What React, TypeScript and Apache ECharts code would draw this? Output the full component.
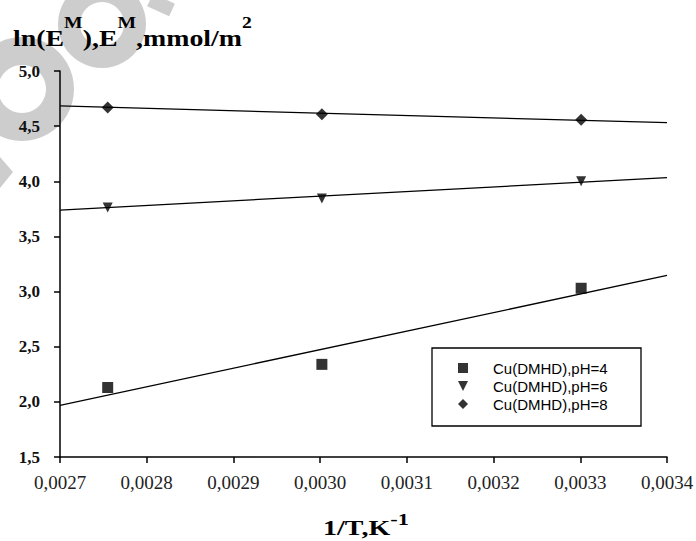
import React, { useEffect, useRef } from "react";
import * as echarts from "echarts";

// ---- data ----
const xPoints = [0.002755, 0.003002, 0.003301];
const seriesNames = ["Cu(DMHD),pH=4", "Cu(DMHD),pH=6", "Cu(DMHD),pH=8"];
const pH4 = [2.13, 2.34, 3.03];
const pH6 = [3.763, 3.845, 4.0];
const pH8 = [4.67, 4.607, 4.558];
// fitted trend lines: [x, y] end points
const fitX = [0.0027, 0.0034];
const fit4 = [1.969, 3.146];
const fit6 = [3.739, 4.033];
const fit8 = [4.683, 4.531];

const xTickLabels = ["0,0027", "0,0028", "0,0029", "0,0030", "0,0031", "0,0032", "0,0033", "0,0034"];
const yTickLabels = ["1,5", "2,0", "2,5", "3,0", "3,5", "4,0", "4,5", "5,0"];
const yTitle = "{a|ln(E}{s|M}{a|),E}{s|M}{a|,mmol/m}{s|2}";
const xTitle = "{a|1/T,K}{s|-1}";
const xMin = 0.0027, xMax = 0.0034, xStep = 0.0001;
const yMin = 1.5, yMax = 5.0, yStep = 0.5;

const SERIF = "Liberation Serif";
const SANS = "Liberation Sans";
const WM = "#cdcdcd";

export default function App() {
  const ref = useRef<HTMLDivElement>(null);
  useEffect(() => {
    if (!ref.current) return;
    const chart = echarts.init(ref.current, null, { renderer: "svg" });
    const pts = (ys: number[]) => xPoints.map((x, i) => [x, ys[i]]);
    const fit = (ys: number[]) => fitX.map((x, i) => [x, ys[i]]);
    const lineSeries = (ys: number[]) => ({
      type: "line",
      data: fit(ys),
      showSymbol: false,
      symbol: "none",
      lineStyle: { color: "#000", width: 1.3 },
      silent: true,
      z: 2,
    });
    const triDown = "path://M0,0L10,0L5,10Z";
    chart.setOption({
      animation: false,
      backgroundColor: "#fff",
      textStyle: { fontFamily: SERIF },
      grid: { left: 60, right: 29, top: 71, bottom: 84, containLabel: false, outerBoundsMode: "none" },
      xAxis: {
        type: "value",
        min: xMin,
        max: xMax,
        interval: xStep,
        splitLine: { show: false },
        axisLine: { onZero: false, lineStyle: { color: "#000", width: 1.5 } },
        axisTick: { show: true, length: 6, lineStyle: { color: "#000", width: 1.5 } },
        axisLabel: {
          margin: 16,
          fontFamily: SERIF,
          fontSize: 19,
          color: "#222",
          formatter: (v: number) => xTickLabels[Math.round((v - xMin) / xStep)] ?? "",
        },
      },
      yAxis: {
        type: "value",
        min: yMin,
        max: yMax,
        interval: yStep,
        splitLine: { show: false },
        axisLine: { show: true, onZero: false, lineStyle: { color: "#000", width: 1.5 } },
        axisTick: { show: true, length: 6, lineStyle: { color: "#000", width: 1.5 } },
        axisLabel: {
          margin: 20,
          fontFamily: SERIF,
          fontWeight: "bold",
          fontSize: 17,
          color: "#111",
          formatter: (v: number) => yTickLabels[Math.round((v - yMin) / yStep)] ?? "",
        },
      },
      legend: {
        left: 458,
        top: 359,
        orient: "vertical",
        itemWidth: 10,
        itemHeight: 10,
        itemGap: 0,
        padding: 0,
        selectedMode: false,
        textStyle: { fontFamily: SANS, fontSize: 15, color: "#000", lineHeight: 18, padding: [0, 0, 0, 20] },
        data: [
          { name: seriesNames[0], icon: "rect" },
          { name: seriesNames[1], icon: triDown },
          { name: seriesNames[2], icon: "diamond" },
        ],
        z: 5,
      },
      graphic: [
        // faint watermark shapes
        { type: "ring", shape: { cx: 22, cy: 89, r: 52, r0: 24 }, style: { fill: WM }, z: -10, silent: true },
        { type: "ring", shape: { cx: 102, cy: 24, r: 44, r0: 22 }, style: { fill: WM }, z: -10, silent: true },
        { type: "line", shape: { x1: 150, y1: 0, x2: 172, y2: 10 }, style: { stroke: WM, lineWidth: 14 }, z: -10, silent: true },
        { type: "polygon", shape: { points: [[0, 157], [13, 172], [0, 188]] }, style: { fill: WM }, z: -10, silent: true },
        // legend frame
        { type: "rect", shape: { x: 432, y: 348, width: 209, height: 78 }, style: { fill: "#fff", stroke: "#000", lineWidth: 1.3 }, z: 4, silent: true },
        // y-axis title
        {
          type: "text",
          x: 13,
          y: 14,
          scaleX: 1.16,
          z: 10,
          silent: true,
          style: {
            text: yTitle,
            verticalAlign: "top",
            align: "left",
            rich: {
              a: { fontFamily: SERIF, fontWeight: "bold", fontSize: 24, fill: "#000", lineHeight: 36, verticalAlign: "bottom" },
              s: { fontFamily: SERIF, fontWeight: "bold", fontSize: 17, fill: "#000", lineHeight: 18, verticalAlign: "top" },
            },
          },
        },
        // x-axis title
        {
          type: "text",
          x: 366,
          y: 512,
          scaleX: 1.4,
          z: 10,
          silent: true,
          style: {
            text: xTitle,
            verticalAlign: "top",
            align: "center",
            rich: {
              a: { fontFamily: SERIF, fontWeight: "bold", fontSize: 20, fill: "#000", lineHeight: 26, verticalAlign: "bottom" },
              s: { fontFamily: SERIF, fontWeight: "bold", fontSize: 16, fill: "#000", lineHeight: 16, verticalAlign: "top" },
            },
          },
        },
      ],
      series: [
        lineSeries(fit4),
        lineSeries(fit6),
        lineSeries(fit8),
        { name: seriesNames[0], type: "scatter", data: pts(pH4), symbol: "rect", symbolSize: 11, itemStyle: { color: "#000" }, z: 3 },
        { name: seriesNames[1], type: "scatter", data: pts(pH6), symbol: "triangle", symbolRotate: 180, symbolSize: [10, 10], itemStyle: { color: "#000" }, z: 3 },
        { name: seriesNames[2], type: "scatter", data: pts(pH8), symbol: "diamond", symbolSize: [12, 12], itemStyle: { color: "#000" }, z: 3 },
      ],
    });
    return () => chart.dispose();
  }, []);
  return <div ref={ref} style={{ position: "absolute", left: 0, top: 0, width: 696, height: 541 }} />;
}
